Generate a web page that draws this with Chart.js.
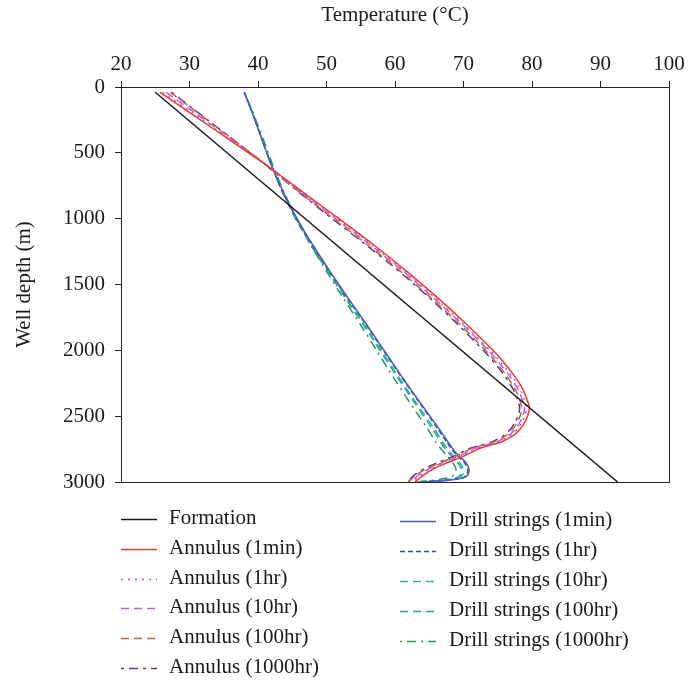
<!DOCTYPE html>
<html>
<head>
<meta charset="utf-8">
<script src="https://cdn.jsdelivr.net/npm/chart.js@4.4.1/dist/chart.umd.min.js"></script>
<style>
  html, body { margin: 0; padding: 0; background: #fff; }
  #wrap { position: relative; width: 690px; height: 682px; }
</style>
</head>
<body>
<div id="wrap"><canvas id="chart" width="690" height="682"></canvas></div>
<script>
// formation line (linear geothermal gradient)
const formationDepth = [40, 3000];
const formationTemp = [25.0, 92.5];

// annulus profiles
const annulusDepth = [40, 200, 400, 600, 800, 1000, 1200, 1400, 1600, 1800, 2000, 2100, 2200, 2300, 2400, 2450, 2500, 2550, 2600, 2650, 2700, 2720, 2750, 2800, 2850, 2900, 2950, 3000];
const annulus1min = [25.7, 30.2, 35.8, 41.4, 46.6, 51.8, 56.9, 61.7, 66.2, 70.4, 74.3, 76.0, 77.5, 78.7, 79.45, 79.6, 79.35, 78.9, 78.25, 77.2, 75.3, 73.9, 72.1, 70.2, 67.8, 65.6, 64.1, 62.9];
const annulus1hr = [26.1, 30.5, 36.0, 41.4, 46.4, 51.5, 56.6, 61.4, 65.8, 70.0, 73.9, 75.6, 77.1, 78.3, 79.05, 79.2, 78.95, 78.5, 77.85, 76.8, 74.9, 73.5, 71.7, 69.8, 67.4, 65.2, 63.7, 62.5];
const annulus10hr = [26.6, 30.9, 36.2, 41.4, 46.3, 51.3, 56.4, 61.2, 65.6, 69.8, 73.6, 75.3, 76.8, 78.0, 78.75, 78.9, 78.65, 78.2, 77.55, 76.5, 74.6, 73.2, 71.4, 69.5, 67.1, 64.9, 63.4, 62.2];
const annulus100hr = [27.2, 31.3, 36.4, 41.4, 46.1, 51.0, 56.0, 60.8, 65.2, 69.4, 73.2, 74.9, 76.4, 77.6, 78.35, 78.5, 78.25, 77.8, 77.15, 76.1, 74.2, 72.8, 71.0, 69.1, 66.7, 64.5, 63.0, 61.9];
const annulus1000hr = [27.4, 31.4, 36.4, 41.3, 46.0, 50.8, 55.8, 60.6, 65.0, 69.1, 72.9, 74.6, 76.1, 77.3, 78.05, 78.2, 77.95, 77.5, 76.85, 75.8, 73.9, 72.5, 70.7, 68.8, 66.4, 64.2, 62.8, 61.7];

// drill string profiles
const drillDepth = [40, 200, 400, 600, 800, 1000, 1200, 1400, 1600, 1800, 2000, 2200, 2400, 2600, 2700, 2760, 2800, 2850, 2900, 2940, 2965, 2980, 2990, 2995, 3000];
const drill1min = [38.0, 39.2, 40.6, 42.0, 43.7, 45.7, 48.0, 50.5, 53.1, 55.8, 58.4, 61.0, 63.7, 66.5, 67.8, 68.6, 69.3, 70.3, 70.8, 70.7, 70.2, 69.0, 67.2, 65.6, 64.0];
const drill1hr = [38.0, 39.2, 40.6, 42.0, 43.6, 45.6, 47.9, 50.4, 53.0, 55.7, 58.3, 60.9, 63.6, 66.3, 67.6, 68.4, 69.1, 70.1, 70.6, 70.5, 70.0, 68.8, 67.0, 65.4, 63.8];
const drill10hr = [38.0, 39.2, 40.6, 42.0, 43.6, 45.5, 47.8, 50.3, 52.8, 55.4, 58.0, 60.5, 63.1, 65.8, 67.0, 67.8, 68.5, 69.4, 70.0, 69.9, 69.4, 68.2, 66.5, 65.0, 63.5];
const drill100hr = [38.0, 39.2, 40.6, 42.0, 43.6, 45.5, 47.7, 50.2, 52.7, 55.3, 57.8, 60.3, 62.9, 65.5, 66.7, 67.5, 68.2, 69.1, 69.7, 69.6, 69.1, 67.9, 66.2, 64.7, 63.2];
const drill1000hr = [38.0, 39.3, 40.8, 42.2, 43.8, 45.6, 47.7, 50.0, 52.4, 54.9, 57.3, 59.7, 62.2, 64.8, 66.0, 66.9, 67.6, 68.4, 68.9, 68.8, 68.0, 66.5, 65.0, 64.0, 63.0];

const xTicks = [20, 30, 40, 50, 60, 70, 80, 90, 100];
const yTicks = [0, 500, 1000, 1500, 2000, 2500, 3000];

const FONT = '"Liberation Serif", "DejaVu Serif", serif';

function pts(temps, depths) {
  return temps.map((t, i) => ({ x: t, y: depths[i] }));
}

function series(label, temps, depths, color, dash, col) {
  return {
    label: label,
    data: pts(temps, depths),
    borderColor: color,
    backgroundColor: color,
    borderWidth: 1.5,
    borderDash: dash,
    pointRadius: 0,
    showLine: true,
    fill: false,
    tension: 0.2,
    legendCol: col,
  };
}

const datasets = [
  series('Formation', formationTemp, formationDepth, '#1a1a1a', [], 0),
  series('Annulus (1min)', annulus1min, annulusDepth, '#e63b35', [], 0),
  series('Annulus (1hr)', annulus1hr, annulusDepth, '#dc4fae', [2, 5], 0),
  series('Annulus (10hr)', annulus10hr, annulusDepth, '#c25fcf', [8, 5], 0),
  series('Annulus (100hr)', annulus100hr, annulusDepth, '#b8673f', [8, 5], 0),
  series('Annulus (1000hr)', annulus1000hr, annulusDepth, '#6e2f8c', [3, 5, 9, 5], 0),
  series('Drill strings (1min)', drill1min, drillDepth, '#4f5fb5', [], 1),
  series('Drill strings (1hr)', drill1hr, drillDepth, '#3c45a6', [5, 3], 1),
  series('Drill strings (10hr)', drill10hr, drillDepth, '#2eb0ab', [8, 5], 1),
  series('Drill strings (100hr)', drill100hr, drillDepth, '#22a597', [8, 5], 1),
  series('Drill strings (1000hr)', drill1000hr, drillDepth, '#1f9d5a', [2, 5, 9, 5], 1),
];
datasets[0].tension = 0;

// frame around plot area + two-column legend below
const framePlugin = {
  id: 'frame',
  afterDraw(chart) {
    const { ctx, chartArea: a } = chart;
    ctx.save();
    ctx.strokeStyle = '#222';
    ctx.lineWidth = 1;
    ctx.strokeRect(a.left + 0.5, a.top + 0.5, a.right - a.left, a.bottom - a.top);

    const cols = [
      { lineX: 121, textX: 169, y0: 519, step: 29.8 },
      { lineX: 400, textX: 449, y0: 521, step: 30.0 },
    ];
    const count = [0, 0];
    ctx.font = '21px ' + FONT;
    ctx.textBaseline = 'middle';
    ctx.fillStyle = '#1a1a1a';
    chart.data.datasets.forEach(ds => {
      const c = cols[ds.legendCol];
      const y = Math.round(c.y0 + c.step * count[ds.legendCol]++) + 0.5;
      ctx.save();
      ctx.strokeStyle = ds.borderColor;
      ctx.lineWidth = 1.5;
      ctx.setLineDash(ds.borderDash);
      ctx.beginPath();
      ctx.moveTo(c.lineX, y);
      ctx.lineTo(c.lineX + 36, y);
      ctx.stroke();
      ctx.restore();
      ctx.fillText(ds.label, c.textX, y - 1);
    });
    ctx.restore();
  },
};

new Chart(document.getElementById('chart'), {
  type: 'scatter',
  data: { datasets: datasets },
  options: {
    responsive: false,
    animation: false,
    events: [],
    layout: { padding: { top: 0, left: 0, right: 21, bottom: 200 } },
    plugins: { legend: { display: false }, tooltip: { enabled: false } },
    scales: {
      x: {
        type: 'linear',
        position: 'top',
        min: 20,
        max: 100,
        afterFit: s => { s.height = 87; },
        afterBuildTicks: s => { s.ticks = xTicks.map(v => ({ value: v })); },
        ticks: { font: { family: FONT, size: 21 }, color: '#1a1a1a', padding: 4, maxRotation: 0, callback: v => String(v) },
        grid: { drawOnChartArea: false, drawTicks: true, tickLength: 6, color: '#222' },
        border: { color: '#222', width: 1 },
        title: { display: true, text: 'Temperature (°C)', font: { family: FONT, size: 21 }, color: '#1a1a1a', padding: { top: 3, bottom: 0 } },
      },
      y: {
        type: 'linear',
        reverse: true,
        min: 0,
        max: 3000,
        afterFit: s => { s.width = 121; },
        afterBuildTicks: s => { s.ticks = yTicks.map(v => ({ value: v })); },
        ticks: { font: { family: FONT, size: 21 }, color: '#1a1a1a', padding: 10, callback: v => String(v) },
        grid: { drawOnChartArea: false, drawTicks: true, tickLength: 6, color: '#222' },
        border: { color: '#222', width: 1 },
        title: { display: true, text: 'Well depth (m)', font: { family: FONT, size: 21 }, color: '#1a1a1a', padding: { top: 12, bottom: 0 } },
      },
    },
  },
  plugins: [framePlugin],
});
</script>
</body>
</html>
